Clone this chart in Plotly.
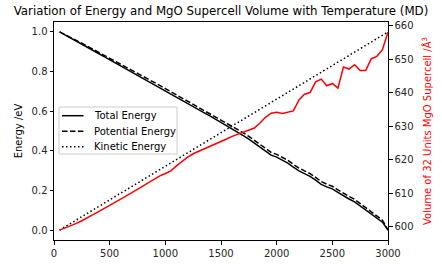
import plotly.graph_objects as go

temperature = [50, 100, 150, 200, 250, 300, 350, 400, 450, 500,
               550, 600, 650, 700, 750, 800, 850, 900, 950, 1000,
               1050, 1100, 1150, 1200, 1250, 1300, 1350, 1400, 1450, 1500,
               1550, 1600, 1650, 1700, 1750, 1800, 1850, 1900, 1950, 2000,
               2050, 2100, 2150, 2200, 2250, 2300, 2350, 2400, 2450, 2500,
               2550, 2600, 2650, 2700, 2750, 2800, 2850, 2900, 2950, 3000]

total_energy = [1.000, 0.985, 0.969, 0.953, 0.938, 0.922, 0.906, 0.891, 0.875, 0.859,
                0.843, 0.828, 0.812, 0.797, 0.781, 0.765, 0.749, 0.734, 0.718, 0.702,
                0.686, 0.670, 0.655, 0.638, 0.623, 0.607, 0.591, 0.576, 0.560, 0.545,
                0.528, 0.511, 0.494, 0.477, 0.459, 0.439, 0.419, 0.397, 0.378, 0.368,
                0.355, 0.338, 0.318, 0.299, 0.285, 0.271, 0.252, 0.231, 0.218, 0.208,
                0.190, 0.172, 0.157, 0.142, 0.122, 0.101, 0.083, 0.061, 0.040, 0.000]

potential_energy = [1.000, 0.987, 0.972, 0.957, 0.943, 0.928, 0.913, 0.898, 0.883, 0.868,
                    0.853, 0.838, 0.822, 0.808, 0.792, 0.777, 0.761, 0.746, 0.730, 0.714,
                    0.698, 0.682, 0.667, 0.651, 0.636, 0.620, 0.604, 0.589, 0.574, 0.558,
                    0.542, 0.525, 0.508, 0.491, 0.473, 0.453, 0.433, 0.411, 0.392, 0.382,
                    0.369, 0.352, 0.332, 0.313, 0.299, 0.285, 0.266, 0.245, 0.232, 0.221,
                    0.203, 0.185, 0.170, 0.155, 0.134, 0.113, 0.095, 0.072, 0.050, 0.000]

kinetic_energy = [0.000, 0.017, 0.034, 0.051, 0.068, 0.085, 0.102, 0.119, 0.136, 0.153,
                  0.169, 0.186, 0.203, 0.220, 0.237, 0.254, 0.271, 0.288, 0.305, 0.322,
                  0.339, 0.356, 0.373, 0.390, 0.407, 0.424, 0.441, 0.458, 0.475, 0.492,
                  0.508, 0.525, 0.542, 0.559, 0.576, 0.593, 0.610, 0.627, 0.644, 0.661,
                  0.678, 0.695, 0.712, 0.729, 0.746, 0.763, 0.780, 0.797, 0.814, 0.831,
                  0.847, 0.864, 0.881, 0.898, 0.915, 0.932, 0.949, 0.966, 0.983, 1.000]

volume = [599.0, 599.6, 600.3, 601.0, 601.8, 602.8, 603.6, 604.5, 605.4, 606.4,
          607.3, 608.3, 609.2, 610.2, 611.2, 612.2, 613.2, 614.2, 615.2, 615.9,
          616.7, 618.2, 619.6, 620.8, 621.8, 622.5, 623.2, 623.9, 624.6, 625.4,
          626.2, 627.0, 627.6, 628.1, 628.8, 629.5, 631.0, 632.7, 633.9, 634.2,
          633.8, 634.3, 634.6, 637.9, 639.6, 640.1, 643.3, 644.1, 642.1, 642.8,
          641.4, 647.7, 647.1, 648.4, 646.7, 646.7, 650.2, 650.9, 652.9, 658.2]

x_ticks = [0, 500, 1000, 1500, 2000, 2500, 3000]
e_ticks = [0.0, 0.2, 0.4, 0.6, 0.8, 1.0]
v_ticks = [600, 610, 620, 630, 640, 650, 660]

legend_names = ["Total Energy", "Potential Energy", "Kinetic Energy"]

FONT = "DejaVu Sans"
W, H = 442, 264
ML, MR, MT, MB = 54, 54, 22, 24
PW, PH = W - ML - MR, H - MT - MB

SOLID = "solid"
DASHED = "5.55px,2.4px"
DOTTED = "1.5px,2.5px"
dash_styles = [SOLID, DASHED, DOTTED]


def px_x(p):
    return (p - ML) / PW


def px_y(p):
    return 1 - (p - MT) / PH


fig = go.Figure()
for name, vals, dash in zip(legend_names, [total_energy, potential_energy, kinetic_energy], dash_styles):
    fig.add_trace(go.Scatter(x=temperature, y=vals, mode="lines", name=name,
                             line=dict(color="black", width=1.5, dash=dash), showlegend=False))
fig.add_trace(go.Scatter(x=temperature, y=volume, mode="lines", name="Volume",
                         line=dict(color="red", width=1.5), yaxis="y2", showlegend=False))

vmin, vmax = min(volume), max(volume)
vspan = vmax - vmin
emin, emax = 0.0, 1.0
espan = emax - emin

axis_common = dict(showgrid=False, zeroline=False, showline=True, linecolor="black", linewidth=1,
                   ticks="outside", ticklen=3.5, tickwidth=0.8, tickcolor="black", automargin=False,
                   tickfont=dict(family=FONT, size=10, color="#262626"))

# manual legend (matplotlib-style compact box)
shapes = [dict(type="rect", xref="paper", yref="paper",
               x0=px_x(59), x1=px_x(177), y0=px_y(154), y1=px_y(107),
               line=dict(color="#cccccc", width=1), fillcolor="rgba(255,255,255,0.8)", layer="above")]
annotations = []
rows = [115.7, 131.2, 146.7]
for name, dash, ry in zip(legend_names, dash_styles, rows):
    shapes.append(dict(type="line", xref="paper", yref="paper",
                       x0=px_x(62), x1=px_x(83.5), y0=px_y(ry), y1=px_y(ry),
                       line=dict(color="black", width=1.5, dash=dash), layer="above"))
    annotations.append(dict(text=name, xref="paper", yref="paper", x=px_x(91.5), y=px_y(ry),
                            xanchor="left", yanchor="middle", showarrow=False,
                            font=dict(family=FONT, size=10, color="black")))

fig.update_layout(
    width=W, height=H,
    margin=dict(l=ML, r=MR, t=MT, b=MB),
    paper_bgcolor="white", plot_bgcolor="white",
    font=dict(family=FONT, size=10, color="black"),
    title=dict(text="Variation of Energy and MgO Supercell Volume with Temperature (MD)",
               x=0.5, xanchor="center", y=1 - 11 / H, yanchor="middle",
               font=dict(family=FONT, size=11.8, color="black")),
    xaxis=dict(range=[0, 3000], tickvals=x_ticks, mirror=True, **axis_common),
    yaxis=dict(range=[emin - 0.05 * espan, emax + 0.05 * espan], tickvals=e_ticks, tickformat=".1f",
               title=dict(text="Energy /eV", font=dict(family=FONT, size=10, color="black"), standoff=7),
               **axis_common),
    yaxis2=dict(range=[vmin - 0.05 * vspan, vmax + 0.05 * vspan], tickvals=v_ticks, overlaying="y",
                side="right",
                title=dict(text="Volume of 32 Units MgO Supercell /Å<sup>3</sup>",
                           font=dict(family=FONT, size=10, color="red"), standoff=11),
                **axis_common),
    shapes=shapes,
    annotations=annotations,
    showlegend=False,
)

fig.write_html("out.html")
